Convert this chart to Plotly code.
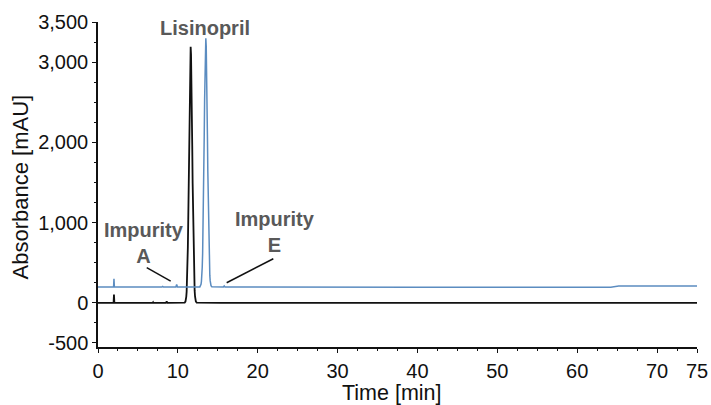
import plotly.graph_objects as go

# Reference chromatogram (black): retention time [min] and absorbance [mAU]
ref_time = [0.0, 1.95, 2.0, 2.05, 6.85, 6.9, 6.95, 8.5, 8.6, 8.7,
            10.85, 10.95, 11.00, 11.05, 11.10, 11.15, 11.20, 11.25, 11.30, 11.35,
            11.40, 11.45, 11.50, 11.55, 11.60, 11.65, 11.70, 11.75, 11.80, 11.85,
            11.90, 11.95, 12.00, 12.05, 12.10, 12.15, 12.20, 12.25, 12.35,
            15.2, 15.3, 15.4, 75.0]
ref_abs = [0, 0, 105, 0, 0, 8, 0, 0, 18, 0,
           3, 16, 35, 73, 140, 254, 432, 690, 1036, 1460,
           1935, 2408, 2815, 3091, 3190, 3095, 2825, 2425, 1960, 1490,
           1065, 715, 455, 272, 152, 80, 40, 18, 4,
           0, 8, 0, 0]

# Sample chromatogram (blue), offset above the reference trace
smp_time = [0.0, 1.95, 2.0, 2.05, 8.0, 8.1, 8.2, 9.75, 9.85, 9.95,
            12.75, 12.85, 12.90, 12.95, 13.00, 13.05, 13.10, 13.15, 13.20, 13.25,
            13.30, 13.35, 13.40, 13.45, 13.50, 13.55, 13.60, 13.65, 13.70, 13.75,
            13.80, 13.85, 13.90, 13.95, 14.00, 14.05, 14.10, 14.15, 14.25,
            15.7, 15.8, 15.9, 40.0, 64.2, 65.2, 75.0]
smp_abs = [197, 197, 300, 197, 197, 205, 197, 197, 230, 197,
           199, 213, 231, 268, 333, 444, 616, 868, 1204, 1616,
           2077, 2537, 2933, 3201, 3297, 3201, 2940, 2550, 2095, 1640,
           1230, 890, 635, 458, 342, 274, 235, 215, 201,
           198, 210, 197, 196, 196, 209, 209]

# Axis ticks
x_ticks = [0, 10, 20, 30, 40, 50, 60, 70, 75]
y_ticks = [-500, 0, 1000, 2000, 3000, 3500]
y_ticktext = ["-500", "0", "1,000", "2,000", "3,000", "3,500"]

FONT = "Liberation Sans, Arial, Helvetica, sans-serif"
LABEL_GREY = "#595959"
INK = "#111111"

fig = go.Figure()
fig.add_trace(go.Scatter(x=ref_time, y=ref_abs, mode="lines",
                         line=dict(color=INK, width=1.8),
                         showlegend=False, hoverinfo="skip"))
fig.add_trace(go.Scatter(x=smp_time, y=smp_abs, mode="lines",
                         line=dict(color="#5b8cc0", width=1.5),
                         showlegend=False, hoverinfo="skip"))

# Peak labels
fig.add_annotation(x=13.4, y=3427, text="<b>Lisinopril</b>", showarrow=False,
                   font=dict(family=FONT, size=20, color=LABEL_GREY))
fig.add_annotation(x=5.75, y=740, text="<b>Impurity<br>A</b>", showarrow=False,
                   font=dict(family=FONT, size=20, color=LABEL_GREY))
fig.add_annotation(x=22.1, y=877, text="<b>Impurity<br>E</b>", showarrow=False,
                   font=dict(family=FONT, size=20, color=LABEL_GREY))

# Leader lines from the impurity labels to their peaks
fig.add_shape(type="line", x0=6.10, y0=438, x1=9.10, y1=271,
              line=dict(color=INK, width=1.5))
fig.add_shape(type="line", x0=21.95, y0=550, x1=16.11, y1=251,
              line=dict(color=INK, width=1.5))

# Axis titles, placed relative to the plot area
fig.add_annotation(xref="paper", yref="paper", x=0.49, y=-0.140,
                   xanchor="center", yanchor="middle", showarrow=False,
                   text="Time [min]",
                   font=dict(family=FONT, size=21.5, color=INK))
fig.add_annotation(xref="paper", yref="paper", x=-0.1302, y=0.4908,
                   xanchor="center", yanchor="middle", showarrow=False,
                   textangle=-90, text="Absorbance [mAU]",
                   font=dict(family=FONT, size=22, color=INK))

axis_common = dict(showline=True, linecolor=INK, linewidth=1.5,
                   ticks="outside", ticklen=4, tickwidth=1.2, tickcolor=INK,
                   showgrid=False, zeroline=False, automargin=False,
                   tickfont=dict(family=FONT, size=20, color=INK))

fig.update_xaxes(range=[0, 75], tickmode="array", tickvals=x_ticks,
                 ticklabelstandoff=1,
                 minor=dict(dtick=2.5, tick0=0, ticks="outside", ticklen=2.5,
                            tickwidth=1, tickcolor=INK, showgrid=False),
                 **axis_common)
fig.update_yaxes(range=[-550, 3500], tickmode="array", tickvals=y_ticks,
                 ticktext=y_ticktext,
                 minor=dict(dtick=250, tick0=0, ticks="outside", ticklen=2.5,
                            tickwidth=1, tickcolor=INK, showgrid=False),
                 **axis_common)

fig.update_layout(width=711, height=405,
                  margin=dict(l=98, r=14, t=22, b=58),
                  paper_bgcolor="white", plot_bgcolor="white",
                  font=dict(family=FONT))

fig.write_html("out.html")
